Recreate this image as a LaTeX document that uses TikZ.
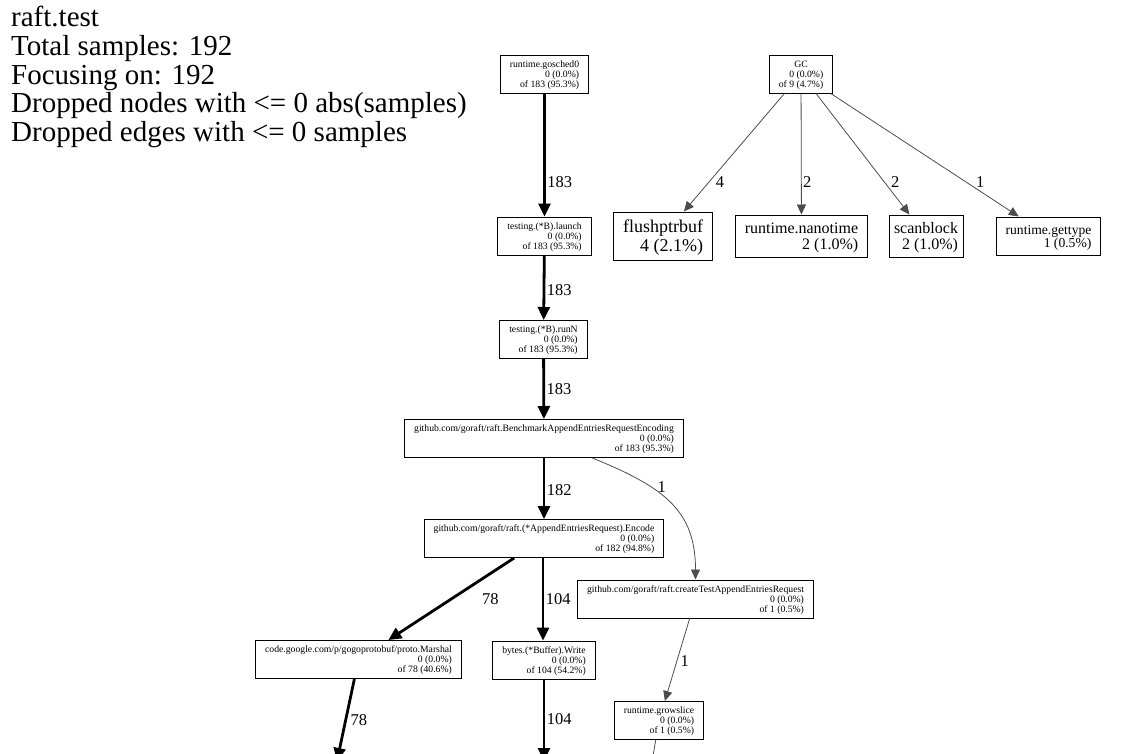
\documentclass[tikz,border=0pt]{standalone}
\usepackage{fontspec}
\setmainfont{Liberation Serif}
\usetikzlibrary{arrows.meta}
\newcommand{\fnlabel}[3]{\begin{tabular}{@{}r@{}}\multicolumn{1}{@{}c@{}}{\rule{0pt}{1em}#1}\\#2\\#3\end{tabular}}
\newcommand{\leaflabel}[2]{\begin{tabular}{@{}r@{}}\multicolumn{1}{@{}c@{}}{\rule{0pt}{1em}#1}\\#2\end{tabular}}
\tikzset{
  fn/.style={rectangle,draw=black,line width=1pt,inner xsep=9.5pt,inner ysep=2pt,
    minimum height=38pt,font=\fontsize{9.7}{10}\selectfont},
  leaf/.style n args={3}{rectangle,draw=black,line width=1pt,inner xsep=9.5pt,inner ysep=2pt,
    minimum height=#3,font=\fontsize{#1}{#2}\selectfont},
  hot/.style={draw=black,line width=2.8pt,-{Triangle[length=13pt,width=12pt]}},
  cold/.style={draw=black!70,line width=0.8pt,-{Triangle[length=10pt,width=9pt]}},
  lbl/.style={font=\fontsize{16.5}{18}\selectfont,inner sep=1.5pt,anchor=west}
}
\begin{document}
\begin{tikzpicture}[x=1pt,y=-1pt]
  \path[use as bounding box,clip] (0,0) rectangle (1127,753);
  \node[anchor=north west,inner sep=0,align=left,font=\fontsize{29}{28.7}\selectfont] (legend) at (11,6)
    {raft.test\\Total samples: 192\\Focusing on: 192\\Dropped nodes with <= 0 abs(samples)\\Dropped edges with <= 0 samples};
  \node[fn] (gosched) at (544.5,74) {\fnlabel{runtime.gosched0}{0 (0.0\%)}{of 183 (95.3\%)}};
  \node[fn] (launch) at (544.5,236) {\fnlabel{testing.(*B).launch}{0 (0.0\%)}{of 183 (95.3\%)}};
  \node[fn] (runn) at (543.5,339.5) {\fnlabel{testing.(*B).runN}{0 (0.0\%)}{of 183 (95.3\%)}};
  \node[fn] (bench) at (544,438.5) {\fnlabel{github.com/goraft/raft.BenchmarkAppendEntriesRequestEncoding}{0 (0.0\%)}{of 183 (95.3\%)}};
  \node[fn] (encode) at (544,538.5) {\fnlabel{github.com/goraft/raft.(*AppendEntriesRequest).Encode}{0 (0.0\%)}{of 182 (94.8\%)}};
  \node[fn] (ctest) at (695.5,599) {\fnlabel{github.com/goraft/raft.createTestAppendEntriesRequest}{0 (0.0\%)}{of 1 (0.5\%)}};
  \node[fn] (marshal) at (358.5,659.5) {\fnlabel{code.google.com/p/gogoprotobuf/proto.Marshal}{0 (0.0\%)}{of 78 (40.6\%)}};
  \node[fn] (bufwrite) at (544,660) {\fnlabel{bytes.(*Buffer).Write}{0 (0.0\%)}{of 104 (54.2\%)}};
  \node[fn] (growslice) at (659,720.5) {\fnlabel{runtime.growslice}{0 (0.0\%)}{of 1 (0.5\%)}};
  \node[fn] (gc) at (801,74) {\fnlabel{GC}{0 (0.0\%)}{of 9 (4.7\%)}};
  \node[leaf={18}{18.5}{48pt}] (flush) at (663,236) {\leaflabel{flushptrbuf}{4 (2.1\%)}};
  \node[leaf={16}{16}{42pt}] (nanotime) at (801.5,236) {\leaflabel{runtime.nanotime}{2 (1.0\%)}};
  \node[leaf={16}{16}{42pt},inner xsep=5pt] (scanblock) at (926,236) {\leaflabel{scanblock}{2 (1.0\%)}};
  \node[leaf={13.6}{13.5}{38pt}] (gettype) at (1048.5,236) {\leaflabel{runtime.gettype}{1 (0.5\%)}};
  \coordinate (marshalout) at (337,761);
  \coordinate (writeout) at (544,761);
  \coordinate (growout) at (651,768);
  \draw[hot] (gosched) -- node[lbl,pos=.72] {183} (launch);
  \draw[hot] (launch) -- node[lbl,pos=.53] {183} (runn);
  \draw[hot] (runn) -- node[lbl,pos=.5] {183} (bench);
  \draw[hot] (bench) -- node[lbl,pos=.52] {182} (encode);
  \draw[hot] (encode) -- node[lbl,pos=.5,right=28pt] {78} (marshal);
  \draw[hot] (encode.south -| 543,0) -- node[lbl,pos=.5] {104} (bufwrite.north -| 543,0);
  \draw[hot] (marshal) -- node[lbl,pos=.5,xshift=2pt] {78} (marshalout);
  \draw[hot] (bufwrite) -- node[lbl,pos=.49] {104} (writeout);
  \draw[cold] (bench) to[out=-22,in=90,out looseness=1.25,in looseness=1.1] node[lbl,pos=.33,xshift=5pt] {1} (ctest);
  \draw[cold] (ctest) -- node[lbl,pos=.52,xshift=2pt] {1} (growslice);
  \draw[cold] (growslice) -- (growout);
  \draw[cold] (gc) -- node[lbl,pos=.75,xshift=5pt] {4} (flush);
  \draw[cold] (gc) -- node[lbl,pos=.73] {2} (nanotime);
  \draw[cold] (gc) -- node[lbl,pos=.73,xshift=5pt] {2} (scanblock);
  \draw[cold] (gc) -- node[lbl,pos=.72,xshift=8pt] {1} (gettype);
\end{tikzpicture}
\end{document}
